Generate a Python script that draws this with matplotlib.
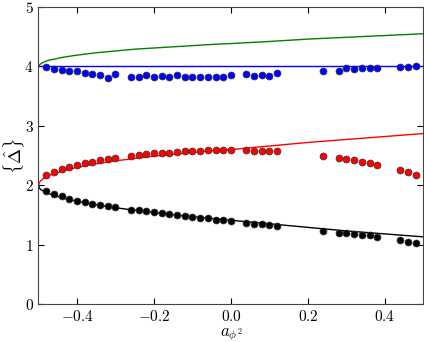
import numpy as np
import matplotlib
matplotlib.use('Agg')
import matplotlib.pyplot as plt

plt.rcParams['mathtext.fontset'] = 'cm'
plt.rcParams['font.family'] = 'serif'
plt.rcParams['font.serif'] = ['cmr10']
plt.rcParams['axes.formatter.use_mathtext'] = True

# curves
x_line = [-0.5, -0.498, -0.495, -0.49, -0.48, -0.47, -0.46, -0.44, -0.42, -0.4, -0.35, -0.3,
          -0.25, -0.2, -0.15, -0.1, -0.05, 0.0, 0.1, 0.2, 0.3, 0.4, 0.5]
green_line = [4.0, 4.025, 4.04, 4.06, 4.09, 4.11, 4.12, 4.15, 4.17, 4.19, 4.23, 4.26,
              4.29, 4.31, 4.33, 4.35, 4.37, 4.385, 4.42, 4.46, 4.49, 4.52, 4.55]
blue_line = [4.0] * len(x_line)
red_line = [2.0, 2.04, 2.07, 2.10, 2.14, 2.17, 2.19, 2.23, 2.27, 2.30, 2.36, 2.41,
            2.45, 2.49, 2.52, 2.55, 2.58, 2.60, 2.66, 2.72, 2.77, 2.82, 2.87]
black_line = [2.0, 1.96, 1.93, 1.91, 1.88, 1.85, 1.83, 1.79, 1.76, 1.73, 1.67, 1.62,
              1.58, 1.54, 1.50, 1.47, 1.44, 1.41, 1.35, 1.29, 1.23, 1.18, 1.13]

# points
x_pts = [-0.48, -0.46, -0.44, -0.42, -0.40, -0.38, -0.36, -0.34, -0.32, -0.30,
         -0.26, -0.24, -0.22, -0.20, -0.18, -0.16, -0.14, -0.12, -0.10, -0.08, -0.06,
         -0.04, -0.02, 0.00, 0.04, 0.06, 0.08, 0.10, 0.12,
         0.24, 0.28, 0.30, 0.32, 0.34, 0.36, 0.38, 0.44, 0.46, 0.48]
blue_pts = [3.99, 3.955, 3.94, 3.93, 3.92, 3.89, 3.88, 3.85, 3.81, 3.87,
            3.815, 3.83, 3.85, 3.83, 3.84, 3.83, 3.85, 3.815, 3.82, 3.83, 3.83,
            3.82, 3.83, 3.85, 3.87, 3.84, 3.86, 3.84, 3.89,
            3.93, 3.93, 3.98, 3.96, 3.97, 3.98, 3.98, 3.985, 3.99, 4.0]
red_pts = [2.164, 2.226, 2.27, 2.31, 2.344, 2.37, 2.39, 2.417, 2.434, 2.457,
           2.50, 2.51, 2.52, 2.535, 2.54, 2.55, 2.56, 2.57, 2.575, 2.58, 2.585,
           2.585, 2.59, 2.59, 2.585, 2.58, 2.58, 2.575, 2.57,
           2.50, 2.46, 2.44, 2.417, 2.39, 2.37, 2.34, 2.25, 2.22, 2.165]
black_pts = [1.90, 1.85, 1.81, 1.776, 1.74, 1.72, 1.69, 1.675, 1.655, 1.63,
             1.59, 1.58, 1.56, 1.546, 1.53, 1.51, 1.50, 1.48, 1.47, 1.455, 1.445,
             1.42, 1.41, 1.395, 1.366, 1.355, 1.34, 1.33, 1.315,
             1.23, 1.20, 1.19, 1.18, 1.17, 1.16, 1.13, 1.07, 1.05, 1.03]

fig = plt.figure(figsize=(4.24, 3.42), dpi=100)
ax = fig.add_axes([0.0908, 0.1111, 0.9080, 0.8684])

ax.plot(x_line, green_line, color='green', lw=1)
ax.plot(x_line, blue_line, color='blue', lw=1)
ax.plot(x_line, red_line, color='red', lw=1)
ax.plot(x_line, black_line, color='black', lw=1)

for ys, c in [(blue_pts, 'blue'), (red_pts, 'red'), (black_pts, 'black')]:
    ax.plot(x_pts, ys, 'o', color=c, markersize=5, markeredgecolor='#333333',
            markeredgewidth=0.5)

ax.set_xlim(-0.5, 0.5)
ax.set_ylim(0, 5)
ax.set_xticks([-0.4, -0.2, 0.0, 0.2, 0.4])
ax.set_yticks([0, 1, 2, 3, 4, 5])
ax.tick_params(direction='in', top=True, right=True, length=4, labelsize=11)
for s in ax.spines.values():
    s.set_color('#444444')

ax.set_xlabel(r'$a_{\phi^2}$', fontsize=12, labelpad=2)
ax.set_ylabel(r'$\{\hat{\Delta}\}$', fontsize=13, va='center')
ax.yaxis.set_label_coords(-0.063, 0.5)

fig.savefig('out.png', dpi=100)
